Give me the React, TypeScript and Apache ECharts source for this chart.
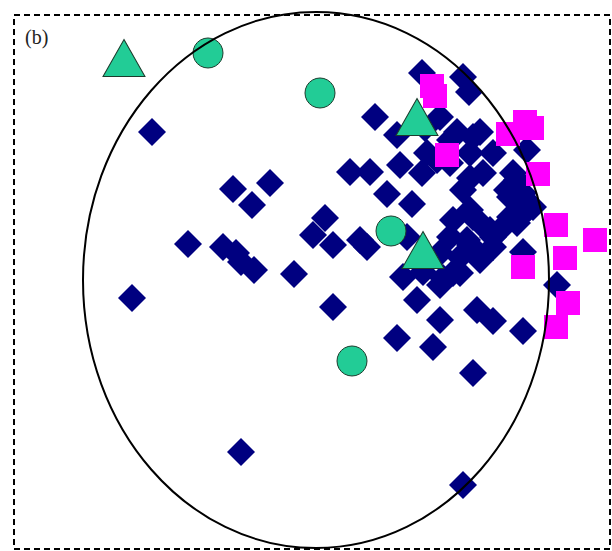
import React, { useEffect, useRef } from "react";
import * as echarts from "echarts";

// Values in plot units (x: 0..612 left→right, y: 0..551 top→bottom)
const diamonds: number[][] = [
  [152, 132], [233, 189], [252, 205], [270, 183], [188, 244], [223, 247], [236, 253], [241, 262],
  [254, 270], [294, 274], [325, 218], [313, 235], [333, 245], [367, 247], [350, 172], [370, 172],
  [132, 298], [333, 307], [241, 452], [463, 485], [397, 338], [433, 347], [473, 373],
  [422, 73], [463, 77], [469, 92], [375, 117], [397, 135], [440, 117], [425, 128], [457, 132],
  [480, 132], [473, 137], [450, 140], [427, 153], [470, 153], [493, 153], [527, 150], [400, 165],
  [422, 173], [450, 163], [437, 160], [470, 178], [483, 173], [513, 173], [517, 180], [463, 190],
  [387, 194], [412, 204], [507, 190], [510, 197], [523, 193], [533, 207], [520, 217], [453, 220],
  [473, 217], [510, 217], [523, 207], [490, 230], [500, 230], [480, 223], [470, 210], [360, 240],
  [407, 237], [450, 237], [467, 240], [470, 245], [493, 237], [517, 223], [530, 207], [440, 253],
  [460, 257], [480, 260], [493, 247], [523, 252], [460, 273], [403, 277], [423, 272], [443, 278],
  [453, 273], [440, 285], [417, 300], [440, 320], [477, 310], [493, 321], [523, 331], [557, 285]
];
const squares: number[][] = [
  [432, 86], [435, 96], [525, 122], [532, 128], [508, 134], [447, 155], [538, 174], [556, 225],
  [595, 240], [523, 267], [565, 258], [568, 303], [556, 327]
];
const circles: number[][] = [[208, 53], [320, 93], [391, 231], [352, 361]];
const triangles: number[][] = [[124, 58], [417, 117], [423, 250]];
const ellipseCenter = [316, 280];
const ellipseRadii = [233, 268];
const frame = [14, 15, 610, 549];
const panelLabel = "(b)";

const GREEN = "#22CC96";

export default function App() {
  const ref = useRef<HTMLDivElement>(null);
  useEffect(() => {
    document.body.style.margin = "0";
    const chart = echarts.init(ref.current!, null, { renderer: "svg" });
    chart.setOption({
      animation: false,
      backgroundColor: "#ffffff",
      title: {
        text: panelLabel,
        left: 20,
        top: 22,
        textStyle: { fontFamily: "Liberation Serif", fontSize: 20, fontWeight: "normal", color: "#222" },
      },
      grid: { left: 0, right: 0, top: 0, bottom: 0 },
      xAxis: { type: "value", min: 0, max: 612, show: false },
      yAxis: { type: "value", min: 0, max: 551, inverse: true, show: false },
      series: [
        {
          type: "scatter",
          symbol: "diamond",
          symbolSize: 28,
          itemStyle: { color: "#000080", opacity: 1 },
          data: diamonds,
          z: 2,
        },
        {
          type: "scatter",
          symbol: "rect",
          symbolSize: 24,
          itemStyle: { color: "#FF00FF", opacity: 1 },
          data: squares,
          z: 3,
        },
        {
          type: "scatter",
          symbol: "circle",
          symbolSize: 30,
          itemStyle: { color: GREEN, borderColor: "#1c3b2c", borderWidth: 1, opacity: 1 },
          data: circles,
          z: 4,
        },
        {
          type: "scatter",
          symbol: "triangle",
          symbolSize: [42, 37],
          itemStyle: { color: GREEN, borderColor: "#1c3b2c", borderWidth: 1, opacity: 1 },
          data: triangles,
          z: 4,
        },
      ],
    });
    const c = chart.convertToPixel({ gridIndex: 0 }, ellipseCenter) as number[];
    const e = chart.convertToPixel({ gridIndex: 0 }, [ellipseCenter[0] + ellipseRadii[0], ellipseCenter[1] + ellipseRadii[1]]) as number[];
    const f0 = chart.convertToPixel({ gridIndex: 0 }, [frame[0], frame[1]]) as number[];
    const f1 = chart.convertToPixel({ gridIndex: 0 }, [frame[2], frame[3]]) as number[];
    chart.setOption({
      graphic: [
        {
          type: "rect",
          z: 1,
          shape: { x: f0[0], y: f0[1], width: f1[0] - f0[0], height: f1[1] - f0[1] },
          style: { fill: "none", stroke: "#000", lineWidth: 2, lineDash: [6, 4] },
        },
        {
          type: "ellipse",
          z: 100,
          shape: { cx: c[0], cy: c[1], rx: Math.abs(e[0] - c[0]), ry: Math.abs(e[1] - c[1]) },
          style: { fill: "none", stroke: "#000", lineWidth: 2 },
        },
      ],
    });
    return () => chart.dispose();
  }, []);
  return <div ref={ref} style={{ width: 612, height: 551 }} />;
}
